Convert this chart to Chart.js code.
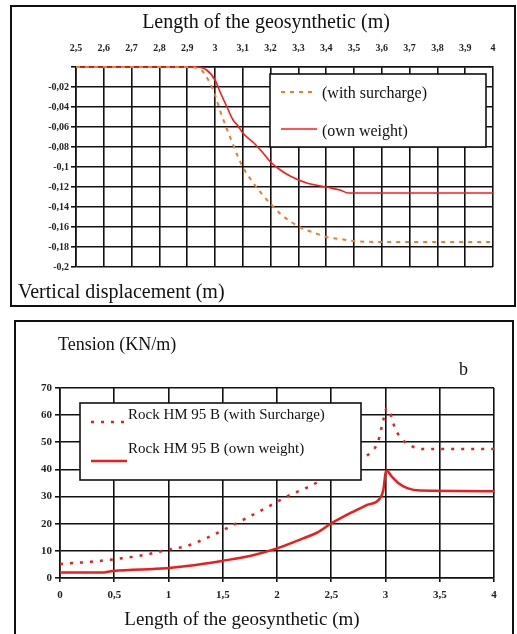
<!DOCTYPE html>
<html><head><meta charset="utf-8">
<script src="https://cdn.jsdelivr.net/npm/chart.js@4.4.0/dist/chart.umd.min.js"></script>
<style>
html,body{margin:0;padding:0;background:#fff;width:517px;height:634px;overflow:hidden;position:relative}
.box{position:absolute;box-sizing:border-box;border:2px solid #111}
canvas{position:absolute;left:0;top:0}
</style></head><body>
<div class="box" style="left:10px;top:5px;width:506px;height:302px"></div>
<div class="box" style="left:14px;top:320px;width:500px;height:330px"></div>
<canvas id="c1" width="517" height="634"></canvas>
<canvas id="c2" width="517" height="634"></canvas>
<script>
const SERIF = '"Liberation Serif","DejaVu Serif",serif';

// ---- Top chart: vertical displacement ----
const topTitle = 'Length of the geosynthetic (m)';
const topYTitle = 'Vertical displacement (m)';
const topXTickValues = [2.5,2.6,2.7,2.8,2.9,3.0,3.1,3.2,3.3,3.4,3.5,3.6,3.7,3.8,3.9,4.0];
const topXTickLabels = ['2,5','2,6','2,7','2,8','2,9','3','3,1','3,2','3,3','3,4','3,5','3,6','3,7','3,8','3,9','4'];
const topYTickValues = [-0.2,-0.18,-0.16,-0.14,-0.12,-0.1,-0.08,-0.06,-0.04,-0.02,0];
const topYTickLabels = ['-0,2','-0,18','-0,16','-0,14','-0,12','-0,1','-0,08','-0,06','-0,04','-0,02',''];
const surchargeLabel = '(with surcharge)';
const surchargeLen  = [2.5, 2.7, 2.9, 2.95, 2.98, 3.0, 3.02, 3.04, 3.06, 3.08, 3.1, 3.13, 3.16, 3.2, 3.24, 3.28, 3.32, 3.36, 3.4, 3.45, 3.5, 3.6, 4.0];
const surchargeDisp = [0, 0, 0, -0.003, -0.015, -0.028, -0.045, -0.06, -0.074, -0.088, -0.1, -0.113, -0.124, -0.137, -0.148, -0.156, -0.162, -0.166, -0.17, -0.172, -0.174, -0.175, -0.175];
const ownLabel = '(own weight)';
const ownLen  = [2.5, 2.93, 2.97, 3.0, 3.02, 3.043, 3.065, 3.083, 3.1, 3.14, 3.17, 3.2, 3.23, 3.27, 3.33, 3.4, 3.45, 3.48, 4.0];
const ownDisp = [0, 0, -0.003, -0.013, -0.026, -0.04, -0.053, -0.059, -0.066, -0.076, -0.085, -0.095, -0.102, -0.109, -0.116, -0.12, -0.123, -0.126, -0.126];

// ---- Bottom chart: tension ----
const botTitle = 'Length of the geosynthetic (m)';
const botYTitle = 'Tension (KN/m)';
const botTag = 'b';
const botXTickValues = [0,0.5,1,1.5,2,2.5,3,3.5,4];
const botXTickLabels = ['0','0,5','1','1,5','2','2,5','3','3,5','4'];
const botYTickValues = [0,10,20,30,40,50,60,70];
const botYTickLabels = ['0','10','20','30','40','50','60','70'];
const tensSurLabel = 'Rock HM 95 B (with Surcharge)';
const tensSurLen = [0, 0.29, 0.58, 0.78, 0.98, 1.17, 1.35, 1.54, 1.72, 1.92, 2.09, 2.29, 2.5, 2.7, 2.87, 2.93, 2.98, 3.01, 3.04, 3.09, 3.16, 3.24, 3.35, 4.0];
const tensSurVal = [5.2, 6.0, 7.3, 8.5, 10.3, 11.8, 14.7, 18.4, 22.1, 26.3, 30, 33.6, 38, 42.5, 46.5, 50.1, 58.2, 62.6, 61, 54.9, 50.8, 48.6, 47.5, 47.5];
const tensOwnLabel = 'Rock HM 95 B (own weight)';
const tensOwnLen = [0, 0.38, 0.49, 0.98, 1.17, 1.49, 1.75, 2.0, 2.24, 2.37, 2.5, 2.7, 2.83, 2.95, 2.98, 3.0, 3.01, 3.06, 3.12, 3.2, 3.32, 4.0];
const tensOwnVal = [2, 2, 2.6, 3.6, 4.4, 6.3, 8.1, 10.9, 14.6, 16.7, 20.1, 24.4, 26.9, 29.4, 32.4, 38.6, 39.5, 37.3, 34.9, 33.1, 32.2, 32.0];

const pts = (xs, ys) => xs.map((x, i) => ({x, y: ys[i]}));
const setTicks = (vals) => (s) => { s.ticks = vals.map(v => ({value: v})); };
const labelOf = (vals, labels) => (v) => { const i = vals.findIndex(t => Math.abs(t - v) < 1e-6); return i < 0 ? '' : labels[i]; };

const overlay = {
  id: 'overlay',
  afterDraw(chart, args, o) {
    const ctx = chart.ctx;
    ctx.save();
    if (o.legend) {
      const L = o.legend;
      ctx.fillStyle = '#fff';
      ctx.fillRect(L.x, L.y, L.w, L.h);
      ctx.strokeStyle = '#111';
      ctx.lineWidth = 1.6;
      ctx.strokeRect(L.x, L.y, L.w, L.h);
      L.items.forEach(it => {
        const ds = chart.data.datasets[it.ds];
        ctx.strokeStyle = ds.borderColor;
        ctx.lineWidth = ds.borderWidth;
        ctx.setLineDash(ds.borderDash || []);
        ctx.beginPath(); ctx.moveTo(it.x1, it.ly); ctx.lineTo(it.x2, it.ly); ctx.stroke();
        ctx.setLineDash([]);
        ctx.fillStyle = '#111';
        ctx.font = L.font;
        ctx.textAlign = 'left'; ctx.textBaseline = 'alphabetic';
        ctx.fillText(ds.label, it.tx, it.ty);
      });
    }
    (o.texts || []).forEach(t => {
      ctx.fillStyle = '#111';
      ctx.font = t.font;
      ctx.textAlign = t.align || 'left';
      ctx.textBaseline = 'alphabetic';
      ctx.fillText(t.text, t.x, t.y);
    });
    ctx.restore();
  }
};

const tickFontTop = {family: SERIF, size: 10, weight: 'bold'};
const tickFontBot = {family: SERIF, size: 11, weight: 'bold'};

new Chart(document.getElementById('c1'), {
  type: 'line',
  data: {
    datasets: [
      {label: surchargeLabel, data: pts(surchargeLen, surchargeDisp), borderColor: '#f07a2a', borderWidth: 2, borderDash: [4,5], pointRadius: 0, cubicInterpolationMode: 'monotone', clip: false},
      {label: ownLabel, data: pts(ownLen, ownDisp), borderColor: '#ff1a1a', borderWidth: 1.6, pointRadius: 0, cubicInterpolationMode: 'monotone', clip: false}
    ]
  },
  options: {
    responsive: false, animation: false, devicePixelRatio: 1,
    layout: {padding: {left: 0, top: 0, right: 24, bottom: 367}},
    plugins: {
      legend: {display: false}, tooltip: {enabled: false},
      overlay: {
        legend: {x: 270, y: 74, w: 216, h: 73, font: '16px ' + SERIF, items: [
          {ds: 0, x1: 281, x2: 317, ly: 92, tx: 322, ty: 98},
          {ds: 1, x1: 281, x2: 317, ly: 129, tx: 322, ty: 136}
        ]},
        texts: [
          {text: topTitle, x: 266, y: 28, align: 'center', font: '20px ' + SERIF},
          {text: topYTitle, x: 18, y: 298, align: 'left', font: '20px ' + SERIF}
        ]
      }
    },
    scales: {
      x: {
        type: 'linear', position: 'top', min: 2.5, max: 4,
        afterBuildTicks: setTicks(topXTickValues),
        afterFit: s => { s.height = 67; },
        ticks: {autoSkip: false, maxRotation: 0, padding: 13, color: '#222', font: tickFontTop, callback: labelOf(topXTickValues, topXTickLabels)},
        grid: {color: '#111', lineWidth: 1.6, drawTicks: false},
        border: {color: '#111', width: 1.6}
      },
      y: {
        type: 'linear', min: -0.2, max: 0,
        afterBuildTicks: setTicks(topYTickValues),
        afterFit: s => { s.width = 76; },
        ticks: {autoSkip: false, padding: 2, color: '#222', font: tickFontTop, callback: labelOf(topYTickValues, topYTickLabels)},
        grid: {color: '#111', lineWidth: 1.6, tickLength: 5},
        border: {color: '#111', width: 1.6}
      }
    }
  },
  plugins: [overlay]
});

new Chart(document.getElementById('c2'), {
  type: 'line',
  data: {
    datasets: [
      {label: tensSurLabel, data: pts(tensSurLen, tensSurVal), borderColor: '#f01c1c', borderWidth: 2.5, borderDash: [3,7], pointRadius: 0, cubicInterpolationMode: 'monotone'},
      {label: tensOwnLabel, data: pts(tensOwnLen, tensOwnVal), borderColor: '#f01c1c', borderWidth: 2.5, pointRadius: 0, cubicInterpolationMode: 'monotone'}
    ]
  },
  options: {
    responsive: false, animation: false, devicePixelRatio: 1,
    layout: {padding: {left: 0, top: 388, right: 23, bottom: 0}},
    plugins: {
      legend: {display: false}, tooltip: {enabled: false},
      overlay: {
        legend: {x: 80, y: 403, w: 281, h: 77, font: '15px ' + SERIF, items: [
          {ds: 0, x1: 91, x2: 127, ly: 422, tx: 128, ty: 419},
          {ds: 1, x1: 91, x2: 127, ly: 461, tx: 128, ty: 453}
        ]},
        texts: [
          {text: botYTitle, x: 58, y: 350, align: 'left', font: '18px ' + SERIF},
          {text: botTag, x: 459, y: 375, align: 'left', font: '18px ' + SERIF},
          {text: botTitle, x: 242, y: 625, align: 'center', font: '19px ' + SERIF}
        ]
      }
    },
    scales: {
      x: {
        type: 'linear', position: 'bottom', min: 0, max: 4,
        afterBuildTicks: setTicks(botXTickValues),
        afterFit: s => { s.height = 56; },
        ticks: {autoSkip: false, maxRotation: 0, padding: 7, color: '#222', font: tickFontBot, callback: labelOf(botXTickValues, botXTickLabels)},
        grid: {color: '#111', lineWidth: 1.6, tickLength: 4},
        border: {color: '#111', width: 1.6}
      },
      y: {
        type: 'linear', min: 0, max: 70,
        afterBuildTicks: setTicks(botYTickValues),
        afterFit: s => { s.width = 60; },
        ticks: {autoSkip: false, padding: 3, color: '#222', font: tickFontBot, callback: labelOf(botYTickValues, botYTickLabels)},
        grid: {color: '#111', lineWidth: 1.6, tickLength: 5},
        border: {color: '#111', width: 1.6}
      }
    }
  },
  plugins: [overlay]
});
</script>
</body></html>
